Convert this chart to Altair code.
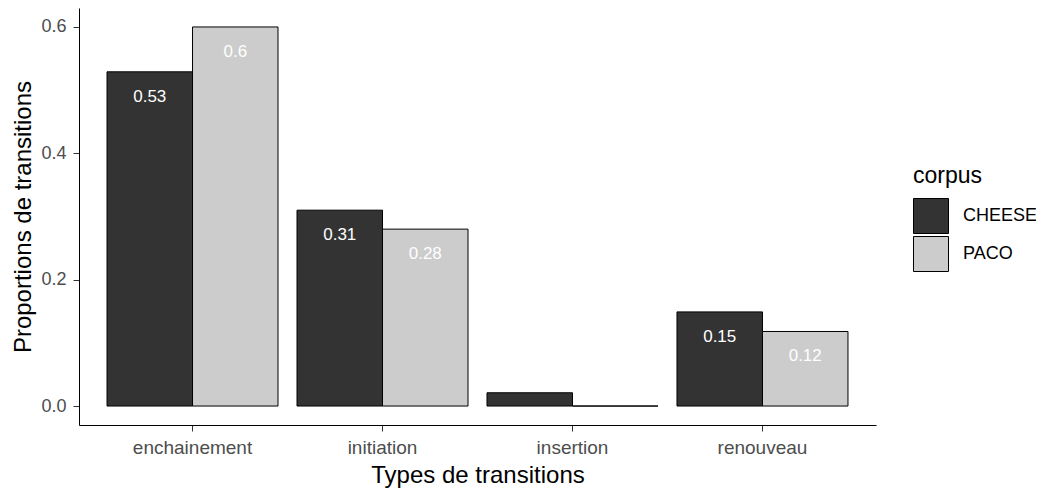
import altair as alt
import pandas as pd

types = ["enchainement", "initiation", "insertion", "renouveau"]
corpora = ["CHEESE", "PACO"]
cheese_values = [0.529, 0.31, 0.021, 0.149]
paco_values = [0.6, 0.28, 0.0, 0.118]
y_ticks = [0.0, 0.2, 0.4, 0.6]
fill_colors = ["#333333", "#CCCCCC"]

rows = []
for t, c, p in zip(types, cheese_values, paco_values):
    rows.append({"type": t, "corpus": "CHEESE", "value": c})
    rows.append({"type": t, "corpus": "PACO", "value": p})
df = pd.DataFrame(rows)

FONT = "Liberation Sans"

x_enc = alt.X(
    "type:N",
    sort=types,
    scale=alt.Scale(paddingInner=0.1, paddingOuter=0.1475),
    axis=alt.Axis(
        title="Types de transitions",
        labelAngle=0,
        labelFontSize=19,
        tickSize=6,
        labelPadding=7,
        titlePadding=6,
        titleFontSize=24,
    ),
)
xoff_enc = alt.XOffset("corpus:N", sort=corpora, scale=alt.Scale(paddingInner=0, paddingOuter=0))
y_enc = alt.Y(
    "value:Q",
    scale=alt.Scale(domain=[-0.03, 0.63], nice=False, zero=False),
    axis=alt.Axis(
        title="Proportions de transitions",
        values=y_ticks,
        format=".1f",
        labelFontSize=18,
        tickSize=6,
        labelPadding=7,
        titlePadding=5,
        titleFontSize=24,
    ),
)

bars = alt.Chart(df).mark_bar(stroke="black", strokeWidth=1).encode(
    x=x_enc,
    xOffset=xoff_enc,
    y=y_enc,
    y2=alt.datum(0),
    fill=alt.Fill(
        "corpus:N",
        sort=corpora,
        scale=alt.Scale(domain=corpora, range=fill_colors),
        legend=alt.Legend(
            title="corpus",
            orient="none",
            legendX=834,
            legendY=157,
            titleFontSize=23,
            titleFontWeight="normal",
            titleColor="black",
            titleFont=FONT,
            titlePadding=10,
            labelFontSize=18,
            labelFont=FONT,
            labelColor="black",
            labelOffset=14,
            symbolType="square",
            symbolSize=1225,
            symbolStrokeColor="black",
            symbolStrokeWidth=1,
            symbolOpacity=1,
            rowPadding=-5,
        ),
    ),
)

labels = alt.Chart(df).transform_filter("datum.value >= 0.05").mark_text(
    baseline="middle", align="center", dy=25, fontSize=17, color="white", font=FONT
).encode(
    x=x_enc,
    xOffset=xoff_enc,
    y=y_enc,
    text=alt.Text("value:Q", format=".2~f"),
)

chart = (
    alt.layer(bars, labels)
    .properties(
        width=797,
        height=417,
        padding={"left": 71, "top": 0, "right": 160, "bottom": 64},
        autosize=alt.AutoSizeParams(type="none"),
    )
    .configure_view(stroke=None)
    .configure_axis(
        grid=False,
        domainColor="black",
        domainWidth=1,
        tickColor="#333333",
        tickWidth=1,
        labelColor="#4D4D4D",
        labelFont=FONT,
        titleFont=FONT,
        titleColor="black",
        titleFontWeight="normal",
    )
)

chart.save("out.html", embed_options={"renderer": "svg", "actions": False})
